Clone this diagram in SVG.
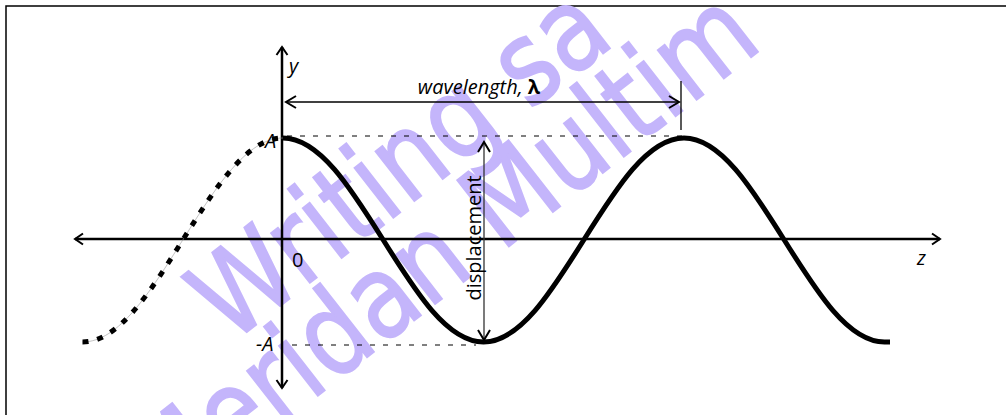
<svg xmlns="http://www.w3.org/2000/svg" width="1006" height="415" viewBox="0 0 1006 415">
<style>
.lbl{font-family:"Open Sans","Liberation Sans",sans-serif;font-size:20px;fill:#000}
.it{font-style:italic}
.wm{font-family:"DejaVu Sans","Open Sans",sans-serif;font-size:115px;fill:#c4b5fb;stroke:#c4b5fb;stroke-width:2}
.axis{stroke:#000;stroke-width:2.5;fill:none}
.guide{stroke:#000;stroke-width:1;stroke-dasharray:5 8;fill:none}
.wave{stroke:#000;stroke-width:5;fill:none}
</style>
<defs>
<marker id="ah" viewBox="-10 -7 12 14" markerWidth="12" markerHeight="14" refX="0" refY="0" orient="auto-start-reverse" markerUnits="userSpaceOnUse">
<path d="M -8,-5.5 L 0,0 L -8,5.5" fill="none" stroke="#000" stroke-width="2"/>
</marker>
<marker id="ahg" viewBox="-12 -8 14 16" markerWidth="14" markerHeight="16" refX="0" refY="0" orient="auto-start-reverse" markerUnits="userSpaceOnUse">
<path d="M -10,-6 L 0,0 L -10,6" fill="none" stroke="#000" stroke-width="2"/>
</marker>
</defs>
<rect x="6" y="6" width="1100" height="500" fill="#fff" stroke="#000" stroke-width="1.5"/>
<g id="watermark">
<text class="wm" transform="translate(230,345) rotate(-38) scale(0.85,1)">Writing sa</text>
<text class="wm" transform="translate(165,515) rotate(-38) scale(0.85,1)">Meridan Multim</text>
</g>
<g id="guides">
<line class="guide" x1="287" y1="136" x2="682" y2="136"/>
<line class="guide" x1="292" y1="345" x2="476" y2="345"/>
</g>
<g id="connectors">
<line class="axis" x1="75" y1="239" x2="940" y2="239" marker-start="url(#ah)" marker-end="url(#ah)"/>
<line class="axis" x1="282" y1="47" x2="282" y2="388" marker-start="url(#ah)" marker-end="url(#ah)"/>
<line x1="286" y1="102" x2="679" y2="102" stroke="#000" stroke-width="1.5" marker-start="url(#ahg)" marker-end="url(#ahg)"/>
<line x1="681" y1="81" x2="681" y2="130" stroke="#000" stroke-width="1.3"/>
<line x1="484" y1="142" x2="484" y2="340" stroke="#333" stroke-width="1.3" marker-start="url(#ahg)" marker-end="url(#ahg)"/>
</g>
<g id="wave">
<path d="M 82.5,342 C 118.78,342 150.06,292.25 182.75,240 C 215.44,187.75 246.72,138 283,138" stroke="#999" stroke-width="0.6" fill="none"/>
<path d="M 82.5,342 C 118.78,342 150.06,292.25 182.75,240 C 215.44,187.75 246.72,138 283,138" stroke="#000" stroke-width="5" stroke-dasharray="6 9" fill="none"/>
<path class="wave" d="M 283,138 C 319.28,138 350.56,187.75 383.25,240 C 415.94,292.25 447.22,342 483.5,342 C 519.78,342 551.06,292.25 583.75,240 C 616.44,187.75 647.72,138 684,138 C 720.28,138 751.56,187.75 784.25,240 C 816.94,292.25 848.22,342 884.5,342 L 890,342"/>
</g>
<g id="labels">
<text class="lbl it" x="289" y="73">y</text>
<text class="lbl it" x="265" y="148">A</text>
<text class="lbl it" x="256" y="351">-A</text>
<text class="lbl" x="292" y="267">0</text>
<text class="lbl it" x="917" y="265">z</text>
<text class="lbl" x="479" y="94" text-anchor="middle"><tspan class="it">wavelength, </tspan><tspan font-weight="bold">λ</tspan></text>
<text class="lbl" transform="translate(481,238) rotate(-90)" text-anchor="middle">displacement</text>
</g>
</svg>
